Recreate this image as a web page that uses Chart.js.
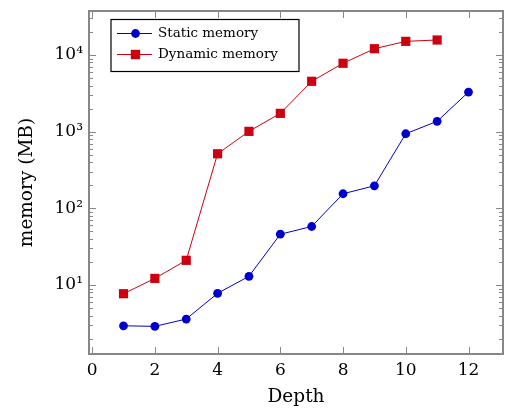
<!DOCTYPE html>
<html>
<head>
<meta charset="utf-8">
<script src="https://cdn.jsdelivr.net/npm/chart.js@4/dist/chart.umd.min.js"></script>
<style>
html,body{margin:0;padding:0;background:#fff;}
canvas{display:block;}
</style>
</head>
<body>
<canvas id="c" width="513" height="418"></canvas>
<script>
const depth = [1, 2, 3, 4, 5, 6, 7, 8, 9, 10, 11, 12];
const staticMem = [2.94, 2.89, 3.6, 7.8, 13.0, 46, 58, 155, 197, 940, 1365, 3290];
const dynamicMem = [7.7, 12.2, 21.0, 515, 1010, 1734, 4540, 7800, 12080, 15070, 15700];
const seriesNames = ['Static memory', 'Dynamic memory'];
const xTicks = [0, 2, 4, 6, 8, 10, 12];
const yTicks = [10, 100, 1000, 10000];
const xTitle = 'Depth';
const yTitle = 'memory (MB)';

const SERIF = '"DejaVu Serif", serif';
const sup = {'0':'⁰','1':'¹','2':'²','3':'³','4':'⁴','5':'⁵','6':'⁶','7':'⁷','8':'⁸','9':'⁹'};
const BLUE = '#0000cc', RED = '#cc0010', AXIS = '#878787';

const frame = {
  id: 'frame',
  beforeDatasetsDraw(chart) {
    const {ctx, chartArea: a, scales: {x, y}} = chart;
    ctx.save();
    ctx.strokeStyle = AXIS;
    ctx.lineWidth = 1;
    const ln = (x1, y1, x2, y2) => { ctx.beginPath(); ctx.moveTo(x1, y1); ctx.lineTo(x2, y2); ctx.stroke(); };
    xTicks.forEach(v => {
      const px = Math.round(x.getPixelForValue(v)) + 0.5;
      ln(px, a.bottom, px, a.bottom - 7);
      ln(px, a.top, px, a.top + 7);
    });
    const e0 = Math.floor(Math.log10(y.min)), e1 = Math.ceil(Math.log10(y.max));
    for (let e = e0; e <= e1; e++) {
      for (let m = 1; m <= 9; m++) {
        const v = m * Math.pow(10, e);
        if (v < y.min || v > y.max) continue;
        const py = Math.round(y.getPixelForValue(v)) + 0.5;
        const len = m === 1 ? 7 : 4;
        ln(a.left, py, a.left + len, py);
        ln(a.right, py, a.right - len, py);
      }
    }
    ctx.lineWidth = 2;
    ctx.strokeRect(a.left, a.top, a.right - a.left, a.bottom - a.top);
    ctx.restore();
  }
};

const legendBox = {
  id: 'legendBox',
  afterDraw(chart) {
    const {ctx} = chart;
    const bx = 111, by = 19.5, bw = 188, bh = 52;
    ctx.save();
    ctx.fillStyle = '#fff';
    ctx.fillRect(bx, by, bw, bh);
    ctx.strokeStyle = '#000';
    ctx.lineWidth = 1.2;
    ctx.strokeRect(bx, by, bw, bh);
    const rows = [33.5, 54.5];
    chart.data.datasets.forEach((ds, i) => {
      const yy = rows[i];
      ctx.strokeStyle = ds.borderColor;
      ctx.lineWidth = 1;
      ctx.beginPath(); ctx.moveTo(117, yy); ctx.lineTo(152, yy); ctx.stroke();
      Chart.helpers.drawPoint(ctx, {pointStyle: ds.pointStyle, radius: ds.pointRadius, borderWidth: 0, rotation: 0}, 135.5, yy);
      ctx.fillStyle = ds.backgroundColor;
      ctx.fill();
      ctx.fillStyle = '#000';
      ctx.font = '13.5px ' + SERIF;
      ctx.textBaseline = 'middle';
      ctx.textAlign = 'left';
      ctx.fillText(ds.label, 158, yy);
    });
    ctx.restore();
  }
};

new Chart(document.getElementById('c'), {
  type: 'line',
  data: {
    datasets: [
      {
        label: seriesNames[0],
        data: depth.map((d, i) => ({x: d, y: staticMem[i]})),
        borderColor: BLUE, backgroundColor: BLUE,
        borderWidth: 1, pointStyle: 'circle', pointRadius: 4.4, pointBorderWidth: 0,
        tension: 0
      },
      {
        label: seriesNames[1],
        data: dynamicMem.map((v, i) => ({x: depth[i], y: v})),
        borderColor: RED, backgroundColor: RED,
        borderWidth: 1, pointStyle: 'rect', pointRadius: 6.5, pointBorderWidth: 0,
        tension: 0
      }
    ]
  },
  options: {
    responsive: false,
    animation: false,
    devicePixelRatio: 1,
    layout: {padding: {left: 0, top: 11, right: 10, bottom: 0}},
    plugins: {legend: {display: false}, tooltip: {enabled: false}},
    scales: {
      x: {
        type: 'linear', min: -0.1, max: 13.1,
        afterBuildTicks: s => { s.ticks = xTicks.map(v => ({value: v})); },
        afterFit: s => { s.height = 64; s.paddingLeft = 0; s.paddingRight = 0; },
        grid: {display: false, drawTicks: false},
        border: {display: false},
        ticks: {padding: 6, color: '#000', font: {family: SERIF, size: 17}, maxRotation: 0},
        title: {display: true, text: xTitle, color: '#000', font: {family: SERIF, size: 18.5}, padding: {top: 0, bottom: 10}}
      },
      y: {
        type: 'logarithmic', min: 1.26, max: 37500,
        afterBuildTicks: s => { s.ticks = yTicks.map(v => ({value: v, major: true})); },
        afterFit: s => { s.width = 89; s.paddingTop = 0; s.paddingBottom = 0; },
        grid: {display: false, drawTicks: false},
        border: {display: false},
        ticks: {
          padding: 6, color: '#000', font: {family: SERIF, size: 17},
          callback: v => '10' + String(Math.round(Math.log10(v))).split('').map(c => sup[c]).join('')
        },
        title: {display: true, text: yTitle, color: '#000', font: {family: SERIF, size: 18.5}, padding: {top: 16, bottom: 0}}
      }
    }
  },
  plugins: [frame, legendBox]
});
</script>
</body>
</html>
